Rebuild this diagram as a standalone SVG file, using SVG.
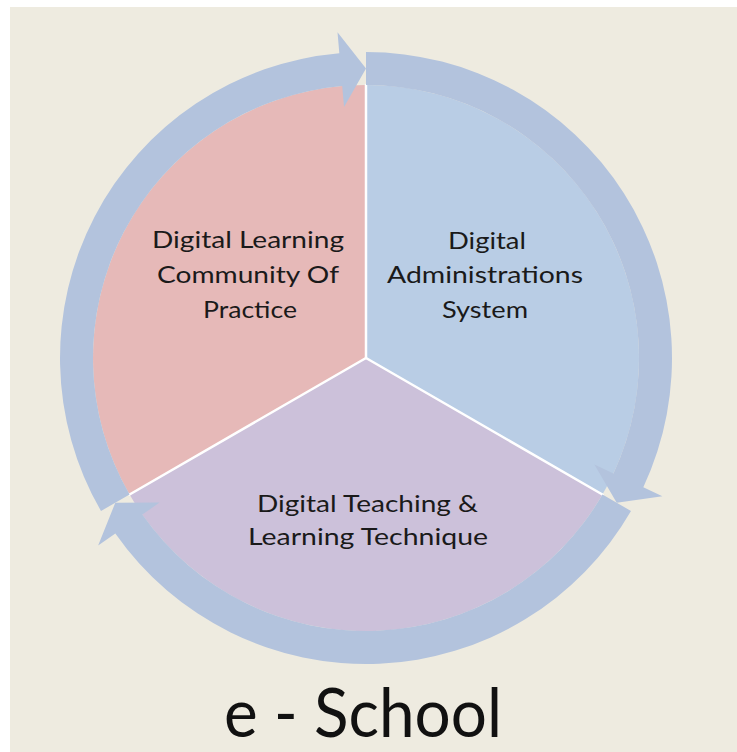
<svg xmlns="http://www.w3.org/2000/svg" width="737" height="752" viewBox="0 0 737 752">
<style>
.lbl{font-family:Lato,"Liberation Sans",sans-serif;font-size:24px;fill:#1a1a1a;text-anchor:middle}
.title{font-family:Lato,"Liberation Sans",sans-serif;font-size:68px;fill:#111;text-anchor:middle}
.ring{fill:#b3c3dd}
.sep{stroke:#ffffff;stroke-width:2.5;stroke-linecap:round}
</style>
<rect x="0" y="0" width="737" height="752" fill="#ffffff"/>
<rect x="10" y="7" width="727" height="745" fill="#eeebe0"/>
<g id="wedge-community">
<path d="M366,358 L129.58,494.5 A273,273 0 0 1 366,85 Z" fill="#e6b9b8"/>
</g>
<g id="wedge-admin">
<path d="M366,358 L366,85 A273,273 0 0 1 602.42,494.5 Z" fill="#b9cde5"/>
</g>
<g id="wedge-teaching">
<path d="M366,358 L602.42,494.5 A273,273 0 0 1 129.58,494.5 Z" fill="#ccc1da"/>
</g>
<g id="separators">
<line class="sep" x1="366" y1="358" x2="366" y2="85"/>
<line class="sep" x1="366" y1="358" x2="602.42" y2="494.5"/>
<line class="sep" x1="366" y1="358" x2="129.58" y2="494.5"/>
</g>
<g id="connectors">
<path class="ring" d="M101,511 A306,306 0 0 1 339.33,53.17 L337.5,32.25 L366,68.5 L344.04,106.96 L342.21,86.04 A273,273 0 0 0 129.58,494.5 Z"/>
<path class="ring" d="M366,52 A306,306 0 0 1 643.33,487.32 L662.36,496.2 L616.71,502.75 L594.39,464.5 L613.42,473.38 A273,273 0 0 0 366,85 Z"/>
<path class="ring" d="M631,511 A306,306 0 0 1 115.34,533.52 L98.14,545.56 L115.29,502.75 L159.57,502.54 L142.37,514.59 A273,273 0 0 0 602.42,494.5 Z"/>
</g>
<g id="label-community">
<text class="lbl" x="248" y="248" textLength="192" lengthAdjust="spacingAndGlyphs">Digital Learning</text>
<text class="lbl" x="248" y="283" textLength="182" lengthAdjust="spacingAndGlyphs">Community Of</text>
<text class="lbl" x="250" y="318" textLength="94" lengthAdjust="spacingAndGlyphs">Practice</text>
</g>
<g id="label-admin">
<text class="lbl" x="487" y="249" textLength="78" lengthAdjust="spacingAndGlyphs">Digital</text>
<text class="lbl" x="485" y="283" textLength="196" lengthAdjust="spacingAndGlyphs">Administrations</text>
<text class="lbl" x="485" y="318" textLength="86" lengthAdjust="spacingAndGlyphs">System</text>
</g>
<g id="label-teaching">
<text class="lbl" x="367.5" y="512" textLength="221" lengthAdjust="spacingAndGlyphs">Digital Teaching &amp;</text>
<text class="lbl" x="368" y="545" textLength="240" lengthAdjust="spacingAndGlyphs">Learning Technique</text>
</g>
<g id="title">
<text class="title" x="363" y="737" textLength="278" lengthAdjust="spacingAndGlyphs">e - School</text>
</g>
</svg>
